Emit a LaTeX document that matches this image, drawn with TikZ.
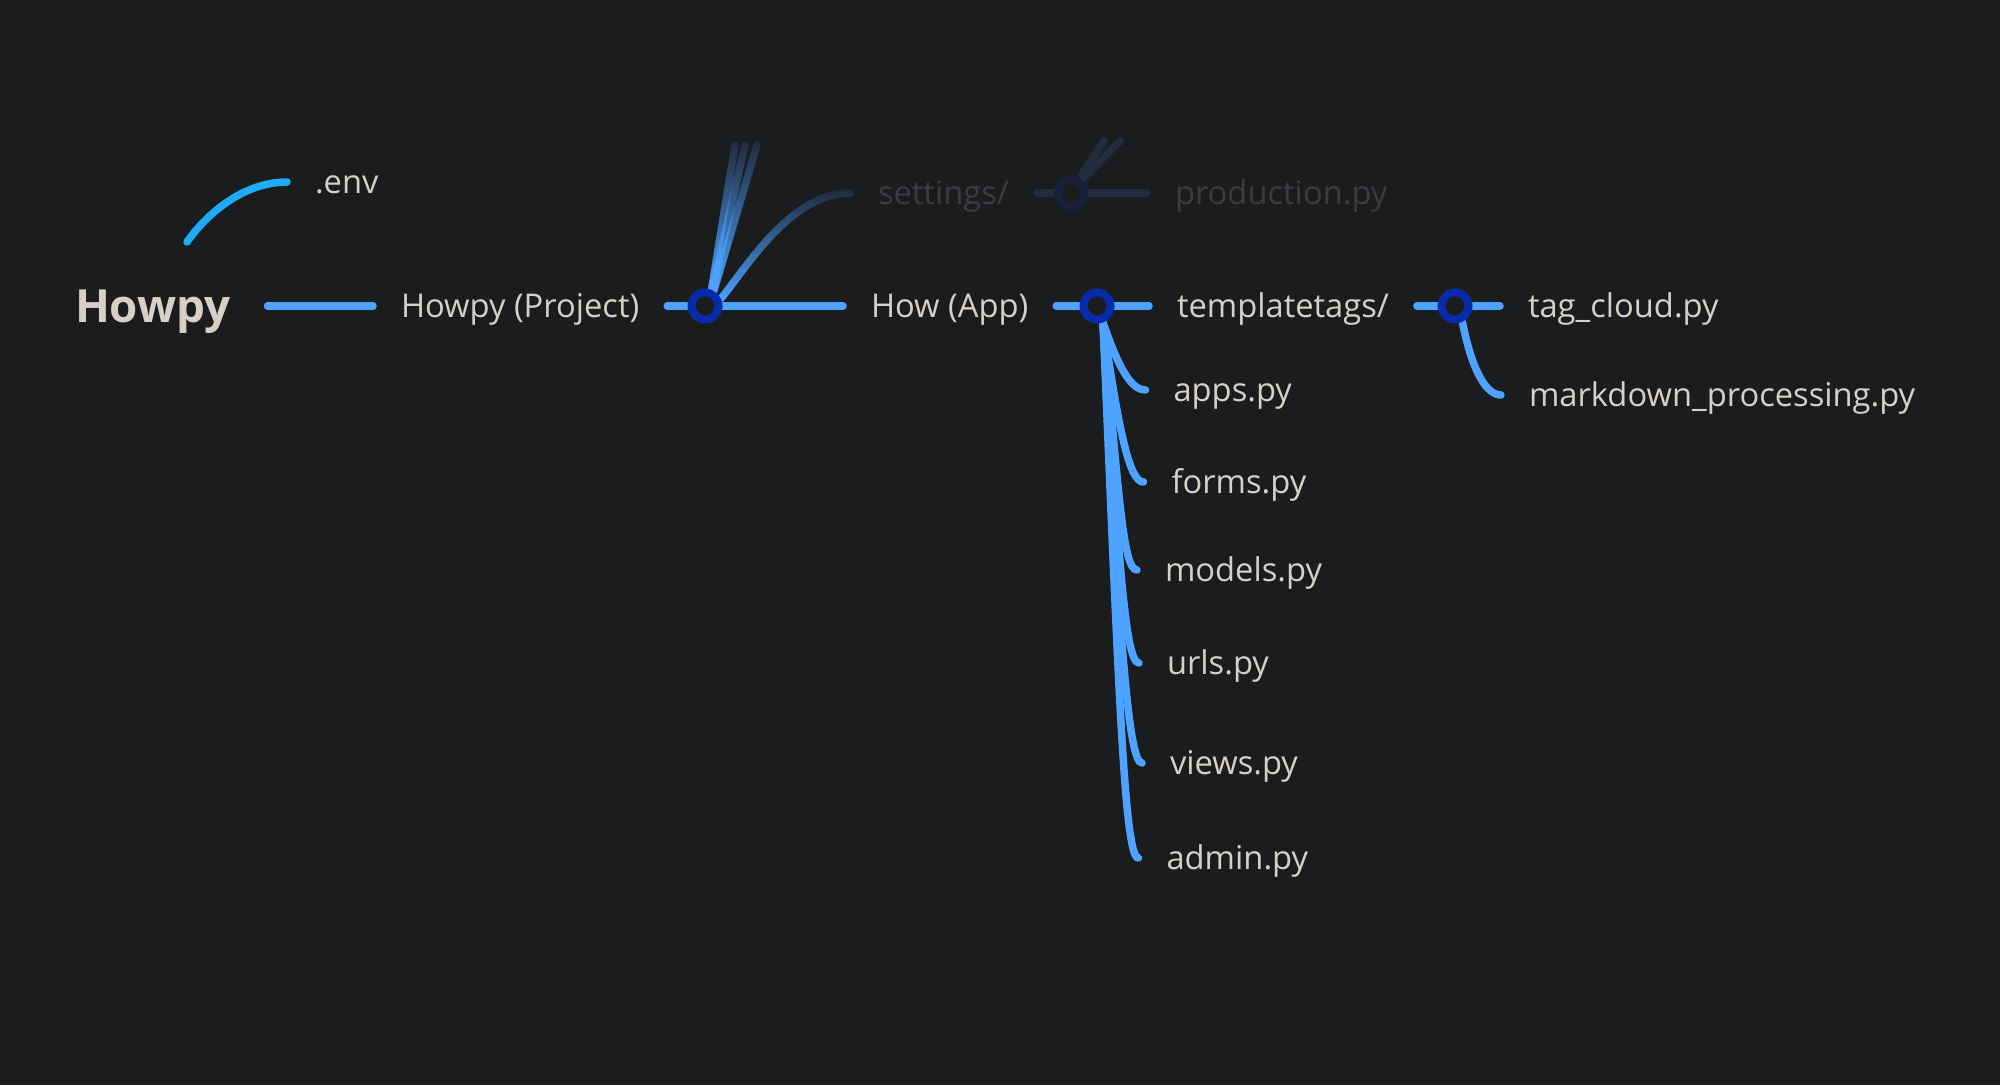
\documentclass[tikz,border=0pt]{standalone}
\usepackage{fontspec}
\setmainfont{Open Sans}
\usetikzlibrary{positioning, fadings, calc}
\definecolor{canvasbg}{RGB}{27,28,30}
\definecolor{leafblue}{RGB}{77,163,255}
\definecolor{knotblue}{RGB}{8,43,170}
\definecolor{envcyan}{RGB}{30,170,245}
\definecolor{labeltext}{RGB}{214,208,198}
\definecolor{dimtext}{RGB}{58,60,64}
\definecolor{dimline}{RGB}{33,44,62}
\definecolor{dimknot}{RGB}{24,32,60}
\pgfdeclarelayer{back}
\pgfdeclarelayer{links}
\pgfsetlayers{back,links,main}
\tikzfading[name=upfade, top color=transparent!100, middle color=transparent!0, bottom color=transparent!0]

\begin{document}
\begin{tikzpicture}[
        x=1pt, y=-1pt,
        entry/.style={text=labeltext, font=\fontsize{32.7}{39}\selectfont, inner sep=0pt, outer sep=28pt, text height=23.35pt, text depth=0pt, anchor=west},
        rootentry/.style={entry, font=\fontsize{45.7}{54}\selectfont\bfseries, text height=32.6pt, outer sep=37pt},
        dimentry/.style={entry, text=dimtext},
        knot/.style={circle, draw=knotblue, fill=canvasbg, line width=8pt, minimum size=27pt, inner sep=0pt},
        dimknotted/.style={knot, draw=dimknot},
        link/.style={draw=leafblue, line width=7.5pt, line cap=round},
        dimlink/.style={link, draw=dimline}
    ]
        \begin{pgfonlayer}{back}
            \fill[canvasbg] (0,0) rectangle (2000,1085);
        \end{pgfonlayer}
        \useasboundingbox (0,0) rectangle (2000,1085);

        % main branch
        \node[rootentry] (root) at (38,306) {Howpy};
        \node[entry] (env) at (287,182) {.env};
        \node[entry] (project) at (373,306) {Howpy (Project)};
        \node[knot] (projknot) at (705,306) {};
        \node[entry] (app) at (843,306) {How (App)};
        \node[knot] (appknot) at (1097,306) {};
        \node[entry] (tags) at (1149,306) {templatetags/};
        \node[knot] (tagknot) at (1455,306) {};
        \node[entry] (tagcloud) at (1500,306) {tag\_cloud.py};
        \node[entry] (mdproc) at (1501,395) {markdown\_processing.py};

        % faded settings branch
        \node[dimentry] (settings) at (850,193) {settings/};
        \node[dimknotted] (setknot) at (1071,193) {};
        \node[dimentry] (production) at (1147,193) {production.py};

        % files of the app
        \node[entry] (apps) at (1145.5,390) {apps.py};
        \node[entry] (forms) at (1143.5,482) {forms.py};
        \node[entry] (models) at (1137,570) {models.py};
        \node[entry] (urls) at (1139,663) {urls.py};
        \node[entry] (views) at (1142,763) {views.py};
        \node[entry] (admin) at (1138.5,858) {admin.py};

        \coordinate (envfoot) at (187,242);
        \coordinate (projup1) at (735,145);
        \coordinate (projup2) at (745,145);
        \coordinate (projup3) at (757,145);
        \coordinate (setup1) at (1104,141);
        \coordinate (setup2) at (1120,141);

        \begin{pgfonlayer}{links}
            \draw[link] (root) -- (project);
            \draw[link] (project) -- (app);
            \draw[link] (app) -- (tags);
            \draw[link] (tags) -- (tagcloud);
            \draw[dimlink] (settings) -- (production);
            \draw[link, draw=envcyan] (envfoot) .. controls +(18,-26) and +(-45,0) .. (env.west);

            \draw[dimlink] (projknot.25) .. controls +(25,-30) and +(-60,0) .. (settings.west);
            \draw[dimlink] (projknot.68) -- (projup1);
            \draw[dimlink] (projknot.65) -- (projup2);
            \draw[dimlink] (projknot.60) -- (projup3);
            \draw[link, path fading=upfade] (projknot.25) .. controls +(25,-30) and +(-60,0) .. (settings.west);
            \draw[link, path fading=upfade] (projknot.68) -- (projup1);
            \draw[link, path fading=upfade] (projknot.65) -- (projup2);
            \draw[link, path fading=upfade] (projknot.60) -- (projup3);
            \draw[dimlink] (setknot.60) -- (setup1);
            \draw[dimlink] (setknot.50) -- (setup2);

            \draw[link] (appknot.-70) .. controls +(16,47) and +(-14,0) .. (apps.west);
            \draw[link] (appknot.-70) .. controls +(16,110) and +(-14,0) .. (forms.west);
            \draw[link] (appknot.-70) .. controls +(16,173) and +(-14,0) .. (models.west);
            \draw[link] (appknot.-70) .. controls +(16,237) and +(-14,0) .. (urls.west);
            \draw[link] (appknot.-70) .. controls +(16,309) and +(-14,0) .. (views.west);
            \draw[link] (appknot.-70) .. controls +(16,376) and +(-14,0) .. (admin.west);

            \draw[link] (tagknot.-65) .. controls +(10,51) and +(-14,0) .. (mdproc.west);
        \end{pgfonlayer}
    \end{tikzpicture}
\end{document}
